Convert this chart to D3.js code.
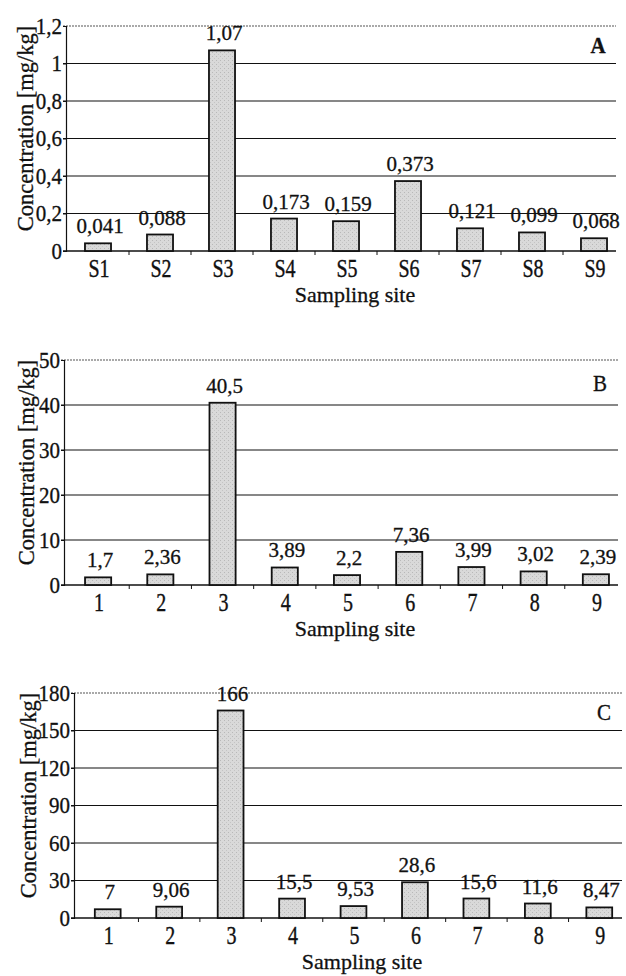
<!DOCTYPE html>
<html>
<head>
<meta charset="utf-8">
<script src="https://cdn.jsdelivr.net/npm/d3@7"></script>
<style>
  body { margin: 0; background: #fff; }
</style>
</head>
<body>
<svg id="chart" width="626" height="976"></svg>
<script>
// data
const sitesA = ['S1', 'S2', 'S3', 'S4', 'S5', 'S6', 'S7', 'S8', 'S9'];
const sitesBC = ['1', '2', '3', '4', '5', '6', '7', '8', '9'];
const valuesA = [0.041, 0.088, 1.07, 0.173, 0.159, 0.373, 0.121, 0.099, 0.068];
const valuesB = [1.7, 2.36, 40.5, 3.89, 2.2, 7.36, 3.99, 3.02, 2.39];
const valuesC = [7, 9.06, 166, 15.5, 9.53, 28.6, 15.6, 11.6, 8.47];
const ticksA = [0, 0.2, 0.4, 0.6, 0.8, 1, 1.2];
const ticksB = [0, 10, 20, 30, 40, 50];
const ticksC = [0, 30, 60, 90, 120, 150, 180];

const FONT = '"Liberation Serif", "Times New Roman", "DejaVu Serif", serif';

const svg = d3.select('#chart');
svg.append('rect').attr('width', 626).attr('height', 976).attr('fill', '#fff');

// light stippled fill like the printed bars
const defs = svg.append('defs');
const pat = defs.append('pattern')
    .attr('id', 'stipple')
    .attr('patternUnits', 'userSpaceOnUse')
    .attr('width', 4).attr('height', 4);
pat.append('rect').attr('width', 4).attr('height', 4).attr('fill', '#d9d9d9');
pat.append('rect').attr('x', 0).attr('y', 0).attr('width', 1).attr('height', 1).attr('fill', '#b8b8b8');
pat.append('rect').attr('x', 2).attr('y', 2).attr('width', 1).attr('height', 1).attr('fill', '#c4c4c4');

const fmt = v => String(v).replace('.', ',');

// text placed at (x, y); sy stretches it vertically (the scan is a bit tall)
function label(g, x, y, str, size, sy, extra) {
    return g.append('text')
        .attr('transform', `translate(${x},${y}) scale(1,${sy})${extra || ''}`)
        .attr('text-anchor', 'middle')
        .style('font-family', FONT)
        .style('font-size', size + 'px')
        .style('fill', '#111')
        .style('stroke', '#111')
        .style('stroke-width', 0.3)
        .text(str);
}

function panel(cfg) {
    const g = svg.append('g');

    const x = d3.scaleBand()
        .domain(cfg.cats)
        .range([cfg.bandX0, cfg.bandX1])
        .paddingInner(0.58)
        .paddingOuter(0.29);
    const y = d3.scaleLinear()
        .domain([0, d3.max(cfg.ticks)])
        .range([cfg.bottom, cfg.top]);

    // gridlines (top one is paler / dotted)
    const last = cfg.ticks.length - 2;
    g.selectAll('.grid')
        .data(cfg.ticks.slice(1))
        .enter().append('line')
        .attr('x1', cfg.axisX - 3)
        .attr('x2', cfg.gridEnd)
        .attr('y1', d => y(d))
        .attr('y2', d => y(d))
        .attr('stroke', (d, i) => i === last ? '#555' : '#111')
        .attr('stroke-dasharray', (d, i) => i === last ? '2,1' : null)
        .attr('stroke-width', 1.1);

    // y axis
    const yAxis = d3.axisLeft(y)
        .tickValues(cfg.ticks)
        .tickFormat(fmt)
        .tickSize(3)
        .tickPadding(1);
    const ya = g.append('g')
        .attr('transform', `translate(${cfg.axisX},0)`)
        .call(yAxis);
    ya.select('.domain').attr('stroke', '#111').attr('stroke-width', 1.2);
    ya.selectAll('.tick line').attr('stroke', '#111');
    ya.selectAll('.tick text')
        .attr('transform', 'scale(1,1.1)')
        .style('font-family', FONT)
        .style('font-size', '21px')
        .style('fill', '#111')
        .style('stroke', '#111')
        .style('stroke-width', 0.3);

    // x axis line with ticks between categories
    g.append('line')
        .attr('x1', cfg.axisX - 3).attr('x2', cfg.gridEnd)
        .attr('y1', y(0)).attr('y2', y(0))
        .attr('stroke', '#111').attr('stroke-width', 1.4);
    const gap = (x.step() - x.bandwidth()) / 2;
    g.selectAll('.xtick')
        .data(cfg.cats.slice(1))
        .enter().append('line')
        .attr('x1', d => x(d) - gap)
        .attr('x2', d => x(d) - gap)
        .attr('y1', y(0)).attr('y2', y(0) + 4)
        .attr('stroke', '#111');

    cfg.cats.forEach(c => label(g, x(c) + x.bandwidth() / 2 + 1, y(0) + 26, c, 20, 1.22));

    // bars
    const data = cfg.cats.map((c, i) => ({ cat: c, v: cfg.values[i] }));
    g.selectAll('.bar')
        .data(data)
        .enter().append('rect')
        .attr('x', d => x(d.cat))
        .attr('y', d => y(d.v))
        .attr('width', x.bandwidth())
        .attr('height', d => y(0) - y(d.v))
        .attr('fill', 'url(#stipple)')
        .attr('stroke', '#111')
        .attr('stroke-width', 1.8);

    // value labels
    data.forEach(d => label(g, x(d.cat) + x.bandwidth() / 2 + 2, y(d.v) - 10, fmt(d.v), 21, 1));

    // axis titles
    label(g, cfg.titleX, (cfg.top + cfg.bottom) / 2 - 10, 'Concentration [mg/kg]', 22.5, 1, ' rotate(-90)')
        .attr('dy', '0.35em');
    label(g, (cfg.axisX + cfg.gridEnd) / 2 + 14, y(0) + 51, 'Sampling site', 22, 1);

    // panel letter
    label(g, cfg.gridEnd - 18, y(cfg.letterAt) + 8, cfg.letter, 21, 1.05)
        .style('font-weight', cfg.bold ? 'bold' : 'normal');
}

panel({ cats: sitesA, values: valuesA, ticks: ticksA, axisX: 66, bandX0: 67, bandX1: 625, titleX: 25,
        gridEnd: 616, top: 26, bottom: 251, letter: 'A', letterAt: 1.1, bold: true });
panel({ cats: sitesBC, values: valuesB, ticks: ticksB, axisX: 64, bandX0: 67, bandX1: 627, titleX: 26,
        gridEnd: 618, top: 360, bottom: 585, letter: 'B', letterAt: 45, bold: false });
panel({ cats: sitesBC, values: valuesC, ticks: ticksC, axisX: 74, bandX0: 77, bandX1: 630, titleX: 28,
        gridEnd: 622, top: 693, bottom: 918, letter: 'C', letterAt: 165, bold: false });
</script>
</body>
</html>
